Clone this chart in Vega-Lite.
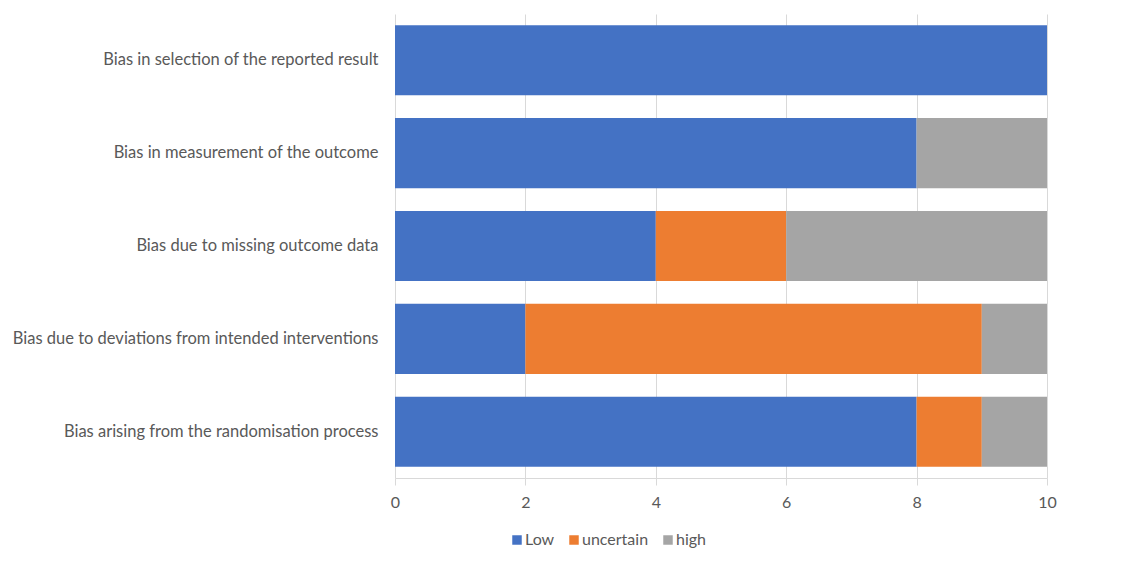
{
  "$schema": "https://vega.github.io/schema/vega-lite/v6.json",
  "width": 652,
  "height": 464,
  "autosize": "none",
  "padding": {"left": 395, "top": 14, "right": 83, "bottom": 89},
  "background": "white",
  "config": {
    "view": {"stroke": null},
    "font": "Lato",
    "axis": {"labelFont": "Lato", "labelColor": "#595959"}
  },
  "data": {
    "values": [
      {"domain": "Bias in selection of the reported result", "risk": "Low", "ord": 1, "count": 10},
      {"domain": "Bias in measurement of the outcome", "risk": "Low", "ord": 1, "count": 8},
      {"domain": "Bias in measurement of the outcome", "risk": "high", "ord": 3, "count": 2},
      {"domain": "Bias due to missing outcome data", "risk": "Low", "ord": 1, "count": 4},
      {"domain": "Bias due to missing outcome data", "risk": "uncertain", "ord": 2, "count": 2},
      {"domain": "Bias due to missing outcome data", "risk": "high", "ord": 3, "count": 4},
      {"domain": "Bias due to deviations from intended interventions", "risk": "Low", "ord": 1, "count": 2},
      {"domain": "Bias due to deviations from intended interventions", "risk": "uncertain", "ord": 2, "count": 7},
      {"domain": "Bias due to deviations from intended interventions", "risk": "high", "ord": 3, "count": 1},
      {"domain": "Bias arising from the randomisation process", "risk": "Low", "ord": 1, "count": 8},
      {"domain": "Bias arising from the randomisation process", "risk": "uncertain", "ord": 2, "count": 1},
      {"domain": "Bias arising from the randomisation process", "risk": "high", "ord": 3, "count": 1}
    ]
  },
  "mark": {"type": "bar"},
  "encoding": {
    "y": {
      "field": "domain",
      "type": "nominal",
      "sort": [
        "Bias in selection of the reported result",
        "Bias in measurement of the outcome",
        "Bias due to missing outcome data",
        "Bias due to deviations from intended interventions",
        "Bias arising from the randomisation process"
      ],
      "scale": {"paddingInner": 0.245, "paddingOuter": 0.12},
      "axis": {
        "title": null,
        "ticks": false,
        "domain": false,
        "labelFontSize": 16.5,
        "labelPadding": 17,
        "labelLimit": 400
      }
    },
    "x": {
      "field": "count",
      "type": "quantitative",
      "stack": "zero",
      "scale": {"domain": [0, 10], "nice": false},
      "axis": {
        "title": null,
        "values": [0, 2, 4, 6, 8, 10],
        "grid": true,
        "gridColor": "#d9d9d9",
        "domainColor": "#d9d9d9",
        "tickColor": "#d9d9d9",
        "tickSize": 7,
        "labelFontSize": 16,
        "labelPadding": 9,
        "labelFlush": false
      }
    },
    "color": {
      "field": "risk",
      "type": "nominal",
      "scale": {"domain": ["Low", "uncertain", "high"], "range": ["#4472C4", "#ED7D31", "#A5A5A5"]},
      "legend": {
        "title": null,
        "orient": "none",
        "direction": "horizontal",
        "legendX": 114,
        "legendY": 518,
        "symbolType": "square",
        "symbolSize": 90,
        "symbolStrokeWidth": 0,
        "labelFont": "Lato",
        "labelFontSize": 16,
        "labelColor": "#595959",
        "labelOffset": 0,
        "columnPadding": 11
      }
    },
    "order": {"field": "ord", "type": "quantitative"}
  }
}
